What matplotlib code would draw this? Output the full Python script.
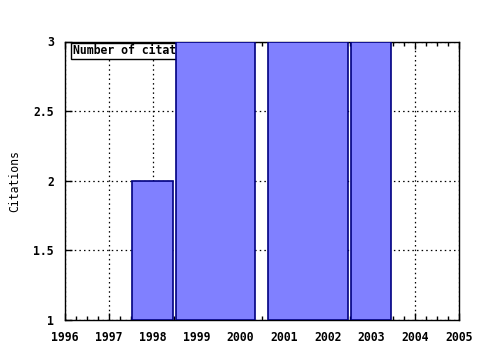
import numpy as np
import matplotlib
matplotlib.use("Agg")
import matplotlib.pyplot as plt
from matplotlib.ticker import MultipleLocator

# bar spans (in years) and citation counts
bar_start = [1997.53, 1998.54, 2000.64, 2002.54]
bar_end   = [1998.46, 2000.35, 2002.46, 2003.45]
citations = [2, 3, 3, 3]

x_ticks = [1996, 1997, 1998, 1999, 2000, 2001, 2002, 2003, 2004, 2005]
y_ticks = [1, 1.5, 2, 2.5, 3]
y_tick_labels = ["1", "1.5", "2", "2.5", "3"]

font = {'family': 'DejaVu Sans Mono', 'weight': 'bold', 'size': 8.3}
matplotlib.rc('font', **font)

fig = plt.figure(figsize=(4.8, 3.5), dpi=100)
ax = fig.add_axes([65 / 480, 1 - 320 / 350, (459 - 65) / 480, (320 - 41.5) / 350])

lefts = np.array(bar_start)
widths = np.array(bar_end) - lefts
ax.bar(lefts, np.array(citations) - 1, widths, bottom=1, align="edge",
       color="#8080ff", edgecolor="#000080", linewidth=1.2, zorder=3)

ax.set_xlim(1996, 2005)
ax.set_ylim(1, 3)
ax.set_xticks(x_ticks)
ax.set_xticklabels([str(x) for x in x_ticks])
ax.set_yticks(y_ticks)
ax.set_yticklabels(y_tick_labels)
ax.xaxis.set_minor_locator(MultipleLocator(0.25))

ax.tick_params(axis='both', which='major', direction='in', length=5, width=1, pad=8)
ax.tick_params(axis='x', which='minor', direction='in', length=3, width=1, top=True)
ax.tick_params(axis='x', which='major', top=True)
ax.grid(True, which='major', color='black', linestyle=(0, (1.2, 2.5)), linewidth=0.9, zorder=1)
for s in ax.spines.values():
    s.set_linewidth(1)

ax.set_ylabel("Citations", labelpad=9)

# key box in the top left corner, partly hidden behind the bars
ax.text(8 / 394, 0.99, "Number of citations", transform=ax.transAxes, ha="left", va="top",
        zorder=2, bbox=dict(boxstyle="square,pad=0.15", facecolor="white", edgecolor="black", linewidth=1))

plt.savefig("out.png", dpi=100)
